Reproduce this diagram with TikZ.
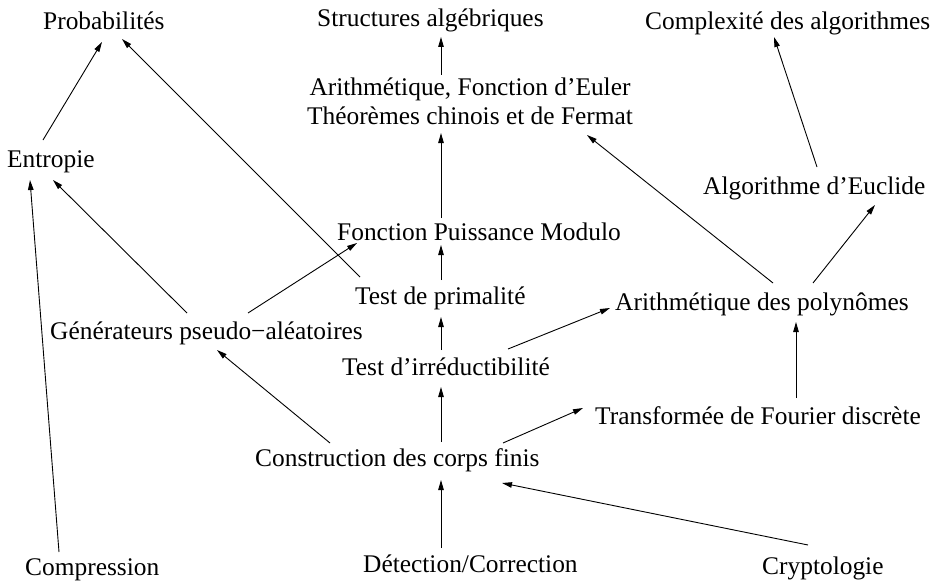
\documentclass[tikz,border=0pt]{standalone}
\usepackage{fontspec}
\setmainfont{Liberation Serif}
\usetikzlibrary{arrows.meta,calc}
\begin{document}
\begin{tikzpicture}[x=1pt,y=-1pt,
  lbl/.style={inner sep=0pt,anchor=base west,font=\fontsize{25.4}{29}\selectfont},
  arr/.style={line width=0.9pt,-{Triangle[length=10pt,width=5.5pt]}}]
\useasboundingbox (0,0) rectangle (932,586);
% nodes
\node[lbl] (prob) at (43,30) {Probabilités};
\node[lbl] (struct) at (317,27) {Structures algébriques};
\node[lbl] (compl) at (645,30) {Complexité des algorithmes};
\node[lbl,anchor=center,align=center] (euler) at (470,101) {Arithmétique, Fonction d’Euler\\Théorèmes chinois et de Fermat};
\node[lbl] (entropie) at (7,167) {Entropie};
\node[lbl] (euclid) at (703,194) {Algorithme d’Euclide};
\node[lbl] (fpm) at (337,240) {Fonction Puissance Modulo};
\node[lbl] (tdp) at (355,304) {Test de primalité};
\node[lbl] (gen) at (50,339) {Générateurs pseudo−aléatoires};
\node[lbl] (poly) at (615,310) {Arithmétique des polynômes};
\node[lbl] (tirr) at (342,375) {Test d’irréductibilité};
\node[lbl] (tfd) at (595,424) {Transformée de Fourier discrète};
\node[lbl] (constr) at (255,466) {Construction des corps finis};
\node[lbl] (compr) at (25,575) {Compression};
\node[lbl] (detect) at (363,572) {Détection/Correction};
\node[lbl] (crypto) at (762,574) {Cryptologie};
% edges
\draw[arr] ($(entropie.base west)+(36,-27)$) -- ($(prob.base west)+(59,12)$);
\draw[arr] ($(tdp.base west)+(5,-27)$) -- ($(prob.base west)+(79,9)$);
\draw[arr] ($(euler.center)+(-29,-26)$) -- ($(struct.base west)+(124,10)$);
\draw[arr] ($(fpm.base west)+(104,-22)$) -- ($(euler.center)+(-29,32)$);
\draw[arr] ($(poly.base west)+(158,-27)$) -- ($(euler.center)+(117,34)$);
\draw[arr] ($(euclid.base west)+(114,-27)$) -- ($(compl.base west)+(129,7)$);
\draw[arr] ($(poly.base west)+(198,-27)$) -- ($(euclid.base west)+(172,11)$);
\draw[arr] ($(gen.base west)+(137,-26)$) -- ($(entropie.base west)+(46,13)$);
\draw[arr] ($(compr.base west)+(34,-23)$) -- ($(entropie.base west)+(23,13)$);
\draw[arr] ($(gen.base west)+(198,-26)$) -- ($(fpm.base west)+(20,3)$);
\draw[arr] ($(tdp.base west)+(86,-24)$) -- ($(fpm.base west)+(104,5)$);
\draw[arr] ($(tirr.base west)+(99,-25)$) -- ($(tdp.base west)+(86,13)$);
\draw[arr] ($(tirr.base west)+(166,-26)$) -- ($(poly.base west)+(-5,-2)$);
\draw[arr] ($(tfd.base west)+(201,-26)$) -- ($(poly.base west)+(181,12)$);
\draw[arr] ($(constr.base west)+(186,-24)$) -- ($(tirr.base west)+(99,12)$);
\draw[arr] ($(constr.base west)+(75,-23)$) -- ($(gen.base west)+(167,11)$);
\draw[arr] ($(constr.base west)+(248,-23)$) -- ($(tfd.base west)+(-12,-16)$);
\draw[arr] ($(detect.base west)+(78,-24)$) -- ($(constr.base west)+(186,14)$);
\draw[arr] ($(crypto.base west)+(46,-29)$) -- ($(constr.base west)+(247,17)$);
\end{tikzpicture}
\end{document}
